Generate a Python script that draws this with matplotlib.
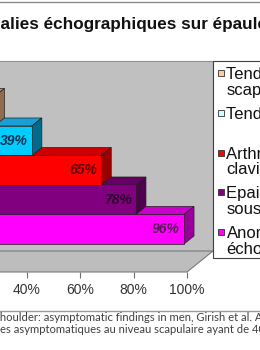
import matplotlib
matplotlib.use("Agg")
import matplotlib.pyplot as plt
from matplotlib.transforms import offset_copy
from matplotlib.font_manager import FontProperties
from matplotlib.patches import Rectangle
from matplotlib.lines import Line2D

plt.rcParams['font.family'] = ['Liberation Sans', 'DejaVu Sans']

# series, listed top to bottom as in the legend
labels = ["Tendinose sous-\nscapulaire",
          "Tendinose supra-épineux",
          "Arthrose acromio-\nclaviculaire",
          "Epaississement bourse\nsous-acromio-deltoïdienne",
          "Anomalies\néchographiques"]
values = [25, 39, 65, 78, 96]
front_colors = ["#c8a27a", "#00ccff", "#ff0000", "#800080", "#ff00ff"]
top_colors = ["#b0906c", "#1a9fd4", "#cc0000", "#660066", "#cc00cc"]
side_colors = ["#8c6d4f", "#006a8c", "#990000", "#4d004d", "#990099"]
label_colors = ["#3a2a1a", "#0a3050", "#5a0000", "#2a002a", "#5a1a5a"]
legend_colors = ["#ffcc99", "#ccffff", "#ff0000", "#800080", "#ff00ff"]
ticks = [0, 20, 40, 60, 80, 100]
title = "Anomalies échographiques sur épaules asymptomatiques"
source = ["Ultrasound of the shoulder: asymptomatic findings in men, Girish et al. AJR 2011",
          "51 hommes asymptomatiques au niveau scapulaire ayant de 40 à 70 ans"]

W, H = 260, 350
fig = plt.figure(figsize=(W / 100, H / 100), dpi=100)
fig.patch.set_facecolor("white")

# front plane of the 3d box, in pixels
x0_px, x100_px = -80, 187
floor_px = 272
unit_px = 29.5
ymin, ymax = -1.236, 5.205
ax = fig.add_axes([x0_px / W, 1 - floor_px / H, (x100_px - x0_px) / W,
                   (ymax - ymin) * unit_px / H])
sx = (x100_px - x0_px) / 100.0

# depths (px) -> data units
fdx, fdy = 26 / sx, 21 / unit_px      # floor / wall
bdx, bdy = 10 / sx, 8 / unit_px       # bar thickness
bar_tr = offset_copy(ax.transData, fig=fig, x=7.7, y=6.3, units='dots')
lab_tr = offset_copy(ax.transData, fig=fig, x=3.7, y=6.3, units='dots')

wall = "#c0c0c0"
ax.fill([-40 + fdx, 100 + fdx, 100 + fdx, -40 + fdx],
        [ymin + fdy, ymin + fdy, ymax + fdy, ymax + fdy],
        facecolor=wall, edgecolor="#909090", lw=0.8, clip_on=False, zorder=0)
ax.fill([-40, 100, 100 + fdx, -40 + fdx],
        [ymin, ymin, ymin + fdy, ymin + fdy],
        facecolor="#bdbdbd", edgecolor="#7a7a7a", lw=0.8, clip_on=False, zorder=0.5)

ypos = [len(values) - 1 - i for i in range(len(values))]
for v, y, tc, sc in zip(values, ypos, top_colors, side_colors):
    ax.fill([0, v, v + bdx, bdx], [y + 0.5, y + 0.5, y + 0.5 + bdy, y + 0.5 + bdy],
            facecolor=tc, edgecolor="#202020", lw=0.5, transform=bar_tr,
            clip_on=False, zorder=1)
    ax.fill([v, v + bdx, v + bdx, v], [y - 0.5, y - 0.5 + bdy, y + 0.5 + bdy, y + 0.5],
            facecolor=sc, edgecolor="#202020", lw=0.5, transform=bar_tr,
            clip_on=False, zorder=1.5)
ax.barh(ypos, values, height=1.0, color=front_colors, edgecolor="#202020",
        linewidth=0.5, transform=bar_tr, clip_on=False, zorder=2)
for v, y, c in zip(values, ypos, label_colors):
    ax.text(v, y, f"{v}%", transform=lab_tr, ha='right', va='center',
            fontsize=10, fontweight='bold', fontstyle='italic', color=c, zorder=3)

ax.set_xlim(0, 100)
ax.set_ylim(ymin, ymax)
ax.set_facecolor("none")
for s in ax.spines.values():
    s.set_visible(False)
ax.set_xticks(ticks)
ax.set_xticklabels([f"{t}%" for t in ticks])
ax.set_yticks([])
ax.tick_params(axis='x', length=4, width=0.8, color="#707070", labelsize=10,
               labelcolor="#333333", pad=4)

renderer = fig.canvas.get_renderer()


def text_width(s, fp):
    w, h, d = renderer.get_text_width_height_descent(s, fp, ismath=False)
    return w


# title: size so that the visible part fills the width
fp_title = FontProperties(family='Liberation Sans', weight='bold', size=12)
fp_title.set_size(12 * 264 / text_width("alies échographiques sur épaule", fp_title))
fig.text(-text_width("Anom", fp_title) / W, 1 - 29 / H, title,
         fontproperties=fp_title, ha='left', va='baseline', color="#111111")

fp_src = FontProperties(family='Lato', size=8)
fp_src.set_size(8 * 254 / text_width("es asymptomatiques au niveau scapulaire ayant de ", fp_src))
fig.text(-text_width("Ultrasound of the s", fp_src) / W, 1 - 321 / H, source[0],
         fontproperties=fp_src, ha='left', va='baseline', color="#404040")
fig.text(-text_width("51 homm", fp_src) / W, 1 - 333 / H, source[1],
         fontproperties=fp_src, ha='left', va='baseline', color="#404040")

fig.add_artist(Line2D([0, 1], [1 - 2 / H] * 2, color="#8a8a8a", lw=1))
fig.add_artist(Line2D([0, 1], [1 - 311 / H] * 2, color="#9a9a9a", lw=1))

# legend box
fig.add_artist(Rectangle((213 / W, 1 - 258 / H), 60 / W, 197 / H,
                         transform=fig.transFigure, facecolor="white",
                         edgecolor="#404040", lw=0.8))
leg_size = 12
em = leg_size * 100 / 72
for i, (lab, c) in enumerate(zip(labels, legend_colors)):
    y_px = 73 + 39.8 * i
    fig.add_artist(Rectangle((218 / W, 1 - (y_px + 3) / H), 6 / W, 6 / H,
                             transform=fig.transFigure, facecolor=c,
                             edgecolor="#303030", lw=0.6))
    for k, line in enumerate(lab.split("\n")):
        fig.text(226.5 / W, 1 - (y_px + 0.36 * em + 15.5 * k) / H, line,
                 fontsize=leg_size, ha='left', va='baseline', color="#111111")

fig.savefig("out.png", dpi=100)
